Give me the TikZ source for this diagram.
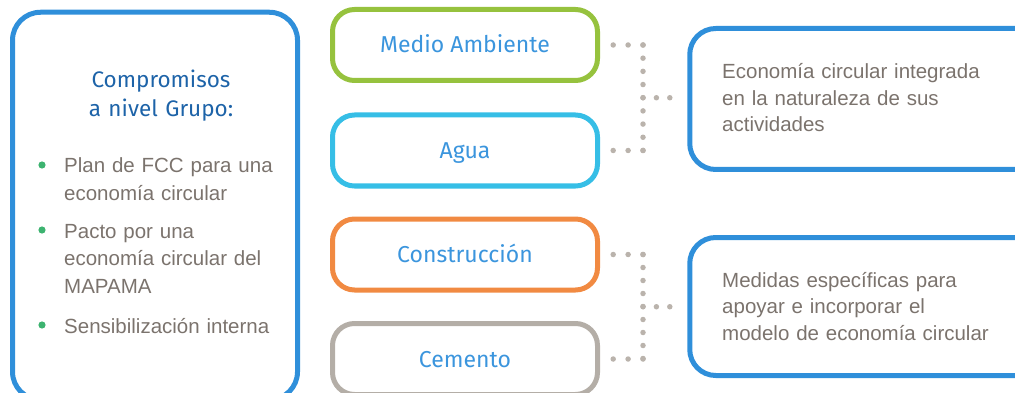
\documentclass[tikz,border=0pt]{standalone}
\usepackage{fontspec}
\setmainfont{Liberation Sans}
\newfontfamily\titulo{Fira Sans}
\usetikzlibrary{calc}

\definecolor{azul}{HTML}{2F8FDA}
\definecolor{azuloscuro}{HTML}{1D63A8}
\definecolor{azultexto}{HTML}{3B95DD}
\definecolor{verde}{HTML}{96C23E}
\definecolor{celeste}{HTML}{36BEE6}
\definecolor{naranja}{HTML}{F18A42}
\definecolor{piedra}{HTML}{B4AEA7}
\definecolor{gristexto}{HTML}{7B736D}
\definecolor{puntogris}{HTML}{BAB3AC}
\definecolor{vineta}{HTML}{3DB370}

\begin{document}
\begin{tikzpicture}[
  x=1pt, y=-1pt,
  caja/.style={draw, line width=5pt, rounded corners=22pt, inner sep=0pt},
  sector/.style={caja, minimum width=265pt, minimum height=71pt,
                 font=\titulo\fontsize{23}{28}\selectfont, text=azultexto,
                 text height=18pt, text depth=2pt},
  grande/.style={caja, draw=azul, rounded corners=26pt, minimum width=410pt},
  texto/.style={inner sep=0pt, text=gristexto, align=left, anchor=base west,
                font=\fontsize{20.5}{27.5}\selectfont},
  puntos/.style={draw=puntogris, line width=5.5pt, line cap=round,
                 dash pattern=on 0pt off 13.18pt}
]
\useasboundingbox (0,0) rectangle (1015,393);
\clip (0,0) rectangle (1015,393);

% ---- caja de compromisos (cortada abajo) ----------------------------
\node[caja, draw=azul, rounded corners=28pt, minimum width=285pt,
      minimum height=387.5pt] (grupo) at (155,206) {};
\node[inner sep=0pt, text width=250pt, align=center, anchor=base,
      text=azuloscuro, font=\titulo\fontsize{22.5}{29}\selectfont]
  (compromisos) at (161,88) {Compromisos\\a nivel Grupo:};

\node[texto, text width=235pt] (plan) at (64,173) {Plan de FCC para una\\economía circular};
\node[texto, text width=235pt] (pacto) at (64,238) {Pacto por una\\economía circular del\\MAPAMA};
\node[texto, text width=235pt] (sensib) at (64,333) {Sensibilización interna};
\foreach \item in {plan,pacto,sensib}
  \fill[vineta] ([xshift=-22pt,yshift=8pt]\item.base west) circle (3.6pt);

% ---- sectores -------------------------------------------------------
\node[sector, draw=verde]   (medio)   at (465,45)    {Medio Ambiente};
\node[sector, draw=celeste] (agua)    at (465,150.5) {Agua};
\node[sector, draw=naranja] (constr)  at (465,254.5) {Construcción};
\node[sector, draw=piedra]  (cemento) at (465,359)   {Cemento};

% ---- cajas de la derecha (cortadas a la derecha) --------------------
\node[grande, minimum height=141pt] (integrada) at (894.75,99) {};
\node[texto, text width=280pt, font=\fontsize{20.5}{26.5}\selectfont]
  (txtint) at (722,79) {Economía circular integrada\\en la naturaleza de sus\\actividades};

\node[grande, minimum height=138pt] (medidas) at (894.75,306.5) {};
\node[texto, text width=280pt, font=\fontsize{20.5}{26.5}\selectfont]
  (txtmed) at (722,287) {Medidas específicas para\\apoyar e incorporar el\\modelo de economía circular};

% ---- uniones de puntos ----------------------------------------------
\coordinate (c1) at ([xshift=43pt]medio.east);
\coordinate (c2) at ([xshift=43pt]agua.east);
\coordinate (m1) at ($(c1)!0.5!(c2)$);
\draw[puntos, dash pattern=on 0pt off 14.9pt] (c1) -- ([xshift=13pt]medio.east);
\draw[puntos] (c1) -- (c2);
\draw[puntos, dash pattern=on 0pt off 14.9pt] (c2) -- ([xshift=13pt]agua.east);
\draw[puntos, dash pattern=on 0pt off 13.4pt] (m1) -- ($(m1 -| integrada.west)+(-17,0)$);

\coordinate (c3) at ([xshift=43pt]constr.east);
\coordinate (c4) at ([xshift=43pt]cemento.east);
\coordinate (m2) at ($(c3)!0.5!(c4)$);
\draw[puntos, dash pattern=on 0pt off 14.9pt] (c3) -- ([xshift=13pt]constr.east);
\draw[puntos, dash pattern=on 0pt off 13.0pt] (c3) -- (c4);
\draw[puntos, dash pattern=on 0pt off 14.9pt] (c4) -- ([xshift=13pt]cemento.east);
\draw[puntos, dash pattern=on 0pt off 13.4pt] (m2) -- ($(m2 -| medidas.west)+(-17,0)$);

\end{tikzpicture}
\end{document}
